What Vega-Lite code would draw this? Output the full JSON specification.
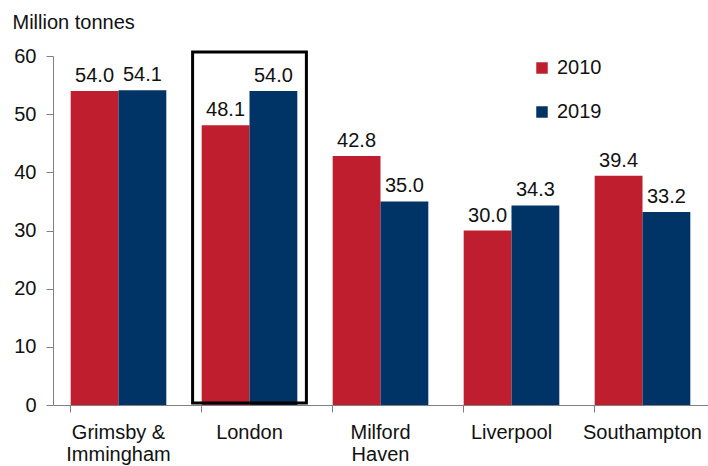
{
  "$schema": "https://vega.github.io/schema/vega-lite/v6.json",
  "width": 655,
  "height": 349,
  "autosize": {"type": "none"},
  "padding": {"left": 53, "top": 56, "right": 0, "bottom": 61},
  "config": {
    "view": {"stroke": null},
    "font": "Liberation Sans",
    "axis": {"grid": false}
  },
  "datasets": {
    "ports": [
      {"port": "Grimsby & Immingham", "year": "2010", "value": 54.0},
      {"port": "Grimsby & Immingham", "year": "2019", "value": 54.1},
      {"port": "London", "year": "2010", "value": 48.1},
      {"port": "London", "year": "2019", "value": 54.0},
      {"port": "Milford Haven", "year": "2010", "value": 42.8},
      {"port": "Milford Haven", "year": "2019", "value": 35.0},
      {"port": "Liverpool", "year": "2010", "value": 30.0},
      {"port": "Liverpool", "year": "2019", "value": 34.3},
      {"port": "Southampton", "year": "2010", "value": 39.4},
      {"port": "Southampton", "year": "2019", "value": 33.2}
    ],
    "box": [
      {"port": "London", "lo": 0.35, "hi": 60.7}
    ]
  },
  "layer": [
    {
      "data": {"name": "ports"},
      "mark": {"type": "bar"},
      "encoding": {
        "x": {
          "field": "port", "type": "nominal",
          "sort": ["Grimsby & Immingham", "London", "Milford Haven", "Liverpool", "Southampton"],
          "scale": {"domain": ["Grimsby & Immingham", "London", "Milford Haven", "Liverpool", "Southampton"], "paddingInner": 0.27, "paddingOuter": 0.135},
          "axis": {
            "title": null, "labelAngle": 0, "labelFontSize": 20, "labelColor": "#111111",
            "labelLineHeight": 22, "labelPadding": 10, "tickSize": 7, "tickColor": "#808080",
            "domainColor": "#808080", "bandPosition": 0, "labelBaseline": "top",
            "labelExpr": "datum.label == 'Grimsby & Immingham' ? ['Grimsby &', 'Immingham'] : datum.label == 'Milford Haven' ? ['Milford', 'Haven'] : datum.label"
          }
        },
        "xOffset": {"field": "year", "type": "nominal", "scale": {"paddingInner": 0, "paddingOuter": 0}},
        "y": {
          "field": "value", "type": "quantitative",
          "scale": {"domain": [0, 60], "nice": false},
          "axis": {
            "values": [0, 10, 20, 30, 40, 50, 60],
            "title": "Million tonnes", "titleAngle": 0, "titleAlign": "left", "titleBaseline": "alphabetic",
            "titleX": -41, "titleY": -28, "titleFontSize": 20, "titleFontWeight": "normal", "titleColor": "#111111",
            "labelFontSize": 20, "labelColor": "#111111", "labelPadding": 10, "tickSize": 7,
            "tickColor": "#808080", "domainColor": "#808080"
          }
        },
        "color": {
          "field": "year", "type": "nominal",
          "scale": {"domain": ["2010", "2019"], "range": ["#BE1E2D", "#003366"]},
          "legend": {
            "title": null, "orient": "none", "legendX": 479, "legendY": 2,
            "symbolType": "square", "symbolSize": 132, "symbolStrokeWidth": 0,
            "labelFontSize": 20, "labelColor": "#111111", "labelOffset": 5,
            "rowPadding": 24, "padding": 0, "symbolOffset": 0
          }
        }
      }
    },
    {
      "data": {"name": "ports"},
      "mark": {"type": "text", "baseline": "alphabetic", "dy": -9, "fontSize": 20, "color": "#111111"},
      "encoding": {
        "x": {"field": "port", "type": "nominal", "sort": ["Grimsby & Immingham", "London", "Milford Haven", "Liverpool", "Southampton"]},
        "xOffset": {"field": "year", "type": "nominal"},
        "y": {"field": "value", "type": "quantitative"},
        "text": {"field": "value", "type": "quantitative", "format": ".1f"}
      }
    },
    {
      "data": {"name": "box"},
      "mark": {"type": "bar", "filled": false, "stroke": "#000000", "strokeWidth": 3, "width": {"band": 1.19}},
      "encoding": {
        "x": {"field": "port", "type": "nominal", "sort": ["Grimsby & Immingham", "London", "Milford Haven", "Liverpool", "Southampton"]},
        "y": {"field": "lo", "type": "quantitative"},
        "y2": {"field": "hi"}
      }
    }
  ]
}
